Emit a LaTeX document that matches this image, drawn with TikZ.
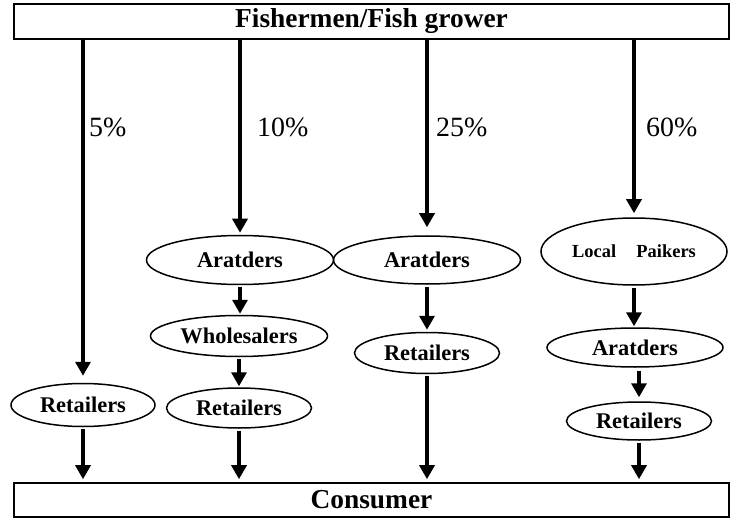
\documentclass[tikz,border=0pt]{standalone}
\usepackage{fontspec}
\setmainfont{Liberation Serif}
\usetikzlibrary{arrows.meta,shapes.geometric}

\begin{document}
\begin{tikzpicture}[x=1bp,y=-1bp,
  bar/.style={draw,line width=1.6bp,minimum width=715bp,inner sep=0pt,font=\bfseries\fontsize{27.5}{30}\selectfont},
  oval/.style={draw,ellipse,line width=1.5bp,inner sep=0pt,font=\bfseries\fontsize{22.5}{24}\selectfont},
  flow/.style={line width=3.3bp,-{Triangle[length=14bp,width=15bp]}},
  pct/.style={anchor=base west,inner sep=0pt,font=\fontsize{28}{30}\selectfont}]
  \useasboundingbox (0,0) rectangle (731,519);
  % end boxes
  \node[bar,minimum height=35bp] (grower) at (371.5,21.5) {Fishermen/Fish grower};
  \node[bar,minimum height=34bp] (consumer) at (371.5,500) {Consumer};
  % column 1
  \node[oval,minimum width=144bp,minimum height=43bp] (ret1) at (83,405) {Retailers};
  % column 2
  \node[oval,minimum width=187bp,minimum height=49bp] (ara2) at (240,260) {Aratders};
  \node[oval,minimum width=177bp,minimum height=41bp] (whl2) at (239,336) {Wholesalers};
  \node[oval,minimum width=145bp,minimum height=40bp] (ret2) at (239,408) {Retailers};
  % column 3
  \node[oval,minimum width=187bp,minimum height=48bp] (ara3) at (427,260) {Aratders};
  \node[oval,minimum width=145bp,minimum height=41bp] (ret3) at (427,353) {Retailers};
  % column 4
  \node[oval,minimum width=186bp,minimum height=67bp,font=\bfseries\fontsize{18.5}{20}\selectfont] (lp4) at (634,251.5) {Local\hspace{1.1em}Paikers};
  \node[oval,minimum width=176bp,minimum height=39bp] (ara4) at (635,347.5) {Aratders};
  \node[oval,minimum width=145bp,minimum height=38bp] (ret4) at (639,421) {Retailers};
  % shares from the growers
  \draw[flow,shorten >=7bp] (ret1.north |- grower.south) -- (ret1.north);
  \draw[flow,shorten >=2bp] (ara2.north |- grower.south) -- (ara2.north);
  \draw[flow,shorten >=8bp] (ara3.north |- grower.south) -- (ara3.north);
  \draw[flow,shorten >=4bp] (lp4.north |- grower.south) -- (lp4.north);
  \node[pct] (p5) at (89,137) {5\%};
  \node[pct] (p10) at (257,137) {10\%};
  \node[pct] (p25) at (436,137) {25\%};
  \node[pct] (p60) at (646,137) {60\%};
  % chains
  \draw[flow,shorten <=2bp,shorten >=1bp] (ara2.south) -- (ara2.south |- whl2.north);
  \draw[flow,shorten <=2bp,shorten >=1bp] (whl2.south) -- (whl2.south |- ret2.north);
  \draw[flow,shorten <=2bp,shorten >=2bp] (ara3.south) -- (ara3.south |- ret3.north);
  \draw[flow,shorten <=2bp,shorten >=1bp] (lp4.south) -- (lp4.south |- ara4.north);
  \draw[flow,shorten <=3bp,shorten >=4bp] (ara4.south -| ret4.north) -- (ret4.north);
  % to the consumer
  \draw[flow,shorten <=2bp,shorten >=3bp] (ret1.south) -- (ret1.south |- consumer.north);
  \draw[flow,shorten <=2bp,shorten >=3bp] (ret2.south) -- (ret2.south |- consumer.north);
  \draw[flow,shorten <=2bp,shorten >=3bp] (ret3.south) -- (ret3.south |- consumer.north);
  \draw[flow,shorten <=2bp,shorten >=3bp] (ret4.south) -- (ret4.south |- consumer.north);
\end{tikzpicture}
\end{document}
